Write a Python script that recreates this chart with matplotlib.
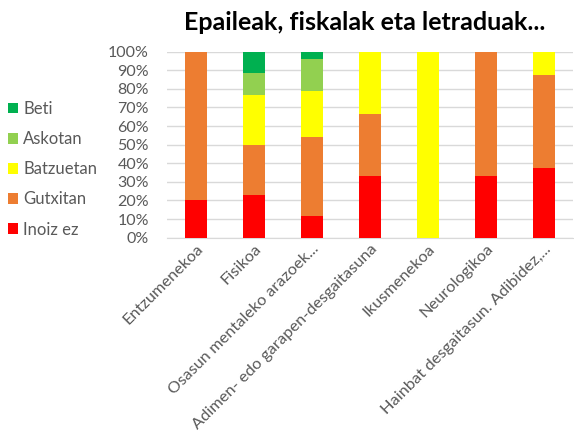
import numpy as np
import matplotlib.pyplot as plt

categories = ["Entzumenekoa", "Fisikoa", "Osasun mentaleko arazoek...",
              "Adimen- edo garapen-desgaitasuna", "Ikusmenekoa", "Neurologikoa",
              "Hainbat desgaitasun. Adibidez,..."]
series = ["Inoiz ez", "Gutxitan", "Batzuetan", "Askotan", "Beti"]
colors = ["#FF0000", "#ED7D31", "#FFFF00", "#92D050", "#00B050"]

inoiz_ez = [20.0, 23.1, 11.8, 33.3, 0.0, 33.3, 37.5]
gutxitan = [80.0, 26.9, 42.1, 33.3, 0.0, 66.7, 50.0]
batzuetan = [0.0, 26.9, 25.0, 33.4, 100.0, 0.0, 12.5]
askotan = [0.0, 11.6, 17.1, 0.0, 0.0, 0.0, 0.0]
beti = [0.0, 11.5, 4.0, 0.0, 0.0, 0.0, 0.0]
values = [inoiz_ez, gutxitan, batzuetan, askotan, beti]

plt.rcParams['font.family'] = ['Lato', 'DejaVu Sans']

fig = plt.figure(figsize=(5.74, 4.41), dpi=100)
ax = fig.add_axes([0.291, 0.461, 0.707, 0.422])

x = np.arange(len(categories))
bottom = np.zeros(len(categories))
handles = []
for name, vals, c in zip(series, values, colors):
    b = ax.bar(x, vals, width=0.39, bottom=bottom, color=c, label=name, zorder=3)
    handles.append(b)
    bottom += np.array(vals)

ax.set_xlim(-0.5, len(categories) - 0.5)
ax.set_ylim(0, 100)
ax.set_yticks(np.arange(0, 101, 10))
ax.set_yticklabels([f"{v}%" for v in range(0, 101, 10)])
ax.yaxis.grid(True, color="#d9d9d9", linewidth=1, zorder=0)
for s in ["top", "right", "left"]:
    ax.spines[s].set_visible(False)
ax.spines["bottom"].set_color("#d9d9d9")
ax.tick_params(axis="y", length=0, pad=13, labelsize=11.5, labelcolor="#595959")
ax.tick_params(axis="x", length=0, pad=3, labelsize=11.8, labelcolor="#595959")
ax.set_xticks(x)
ax.set_xticklabels(categories, rotation=45, ha="right", rotation_mode="anchor")

fig.text(0.636, 0.95, "Epaileak, fiskalak eta letraduak...", ha="center", va="center",
         fontsize=18, fontweight="bold", color="black")

leg = fig.legend(handles[::-1], series[::-1], loc="upper left", bbox_to_anchor=(-0.012, 0.805),
                 frameon=False, fontsize=12, handlelength=0.6, handleheight=0.6,
                 handletextpad=0.3, labelspacing=0.85, labelcolor="#595959")

fig.savefig("out.png", dpi=100)
